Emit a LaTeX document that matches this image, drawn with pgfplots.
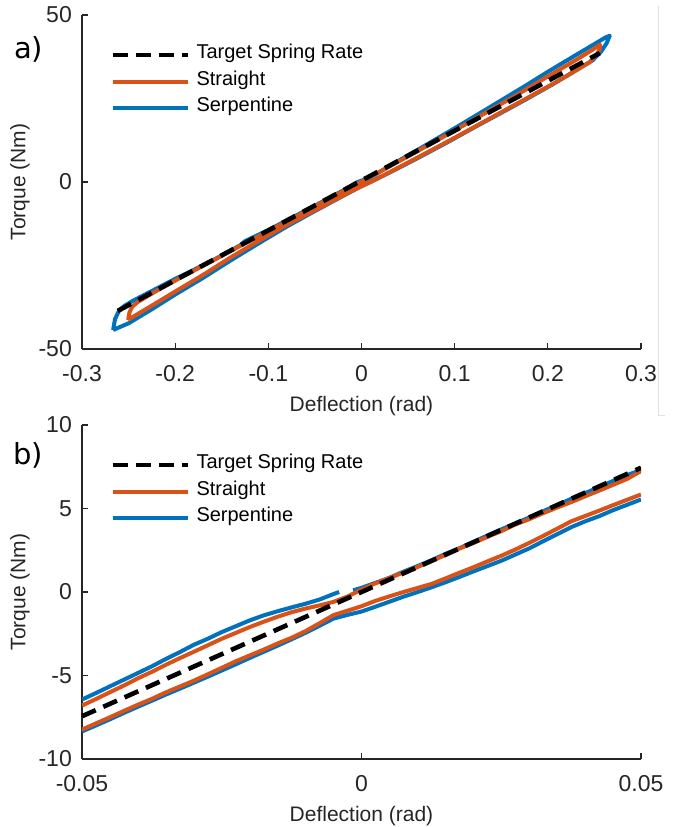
\documentclass[border=0pt]{standalone}
\usepackage{fontspec}
\setmainfont{Liberation Sans}
\newfontfamily\panelfont{DejaVu Sans}
\usepackage{pgfplots}
\pgfplotsset{compat=1.18}
\definecolor{mblue}{rgb}{0,0.447,0.741}
\definecolor{morange}{rgb}{0.85,0.325,0.098}
\definecolor{maxis}{rgb}{0.15,0.15,0.15}

\pgfplotsset{
  springax/.style={
    width=559pt, height=334pt, scale only axis,
    axis x line*=bottom, axis y line*=left,
    axis line style={maxis, line width=1.1pt},
    tick style={maxis, line width=1.1pt},
    tick align=inside, major tick length=6pt,
    scaled ticks=false,
    ticklabel style={font=\fontsize{23}{23}\selectfont, text=maxis},
    xticklabel style={anchor=north, inner sep=0pt, yshift=-16pt},
    yticklabel style={anchor=east, inner sep=0pt, xshift=-10pt},
    xlabel={Deflection (rad)}, ylabel={Torque (Nm)},
    xlabel style={font=\fontsize{21}{21}\selectfont, text=maxis,
      at={(axis description cs:0.5,-0.1877)}, anchor=base, inner sep=0pt},
    ylabel style={font=\fontsize{21}{21}\selectfont, text=maxis,
      at={(axis description cs:-0.111,0.5)}, anchor=center, inner sep=0pt},
    legend style={at={(axis description cs:0.0501,0.9211)}, anchor=north west,
      draw=none, fill=none, inner sep=0pt, row sep=0pt, column sep=6.7pt,
      font=\fontsize{20}{20}\selectfont,
      nodes={inner sep=0pt, text height=16.95pt, text depth=9.75pt}},
    legend cell align=left,
    legend image code/.code={\draw[##1] (0pt,0pt) -- (75pt,0pt);},
  },
  target/.style={black, line width=4.6pt, dash pattern=on 15pt off 8.3pt},
  straight/.style={morange, line width=4pt, line join=round},
  serp/.style={mblue, line width=4pt, line join=round},
}

\begin{document}
\begin{tikzpicture}
\useasboundingbox (-82pt,15pt) rectangle (600pt,-812pt);

% ---- panel a ----
\begin{axis}[springax, at={(0,0)}, anchor=north west,
  xmin=-0.3, xmax=0.3, ymin=-50, ymax=50,
  xtick={-0.3,-0.2,-0.1,0,0.1,0.2,0.3},
  xticklabels={-0.3,-0.2,-0.1,0,0.1,0.2,0.3},
  ytick={-50,0,50}, yticklabels={-50,0,50}]
\addlegendimage{target}\addlegendentry{Target Spring Rate}
\addlegendimage{straight}\addlegendentry{Straight}
\addlegendimage{serp}\addlegendentry{Serpentine}
\addplot[serp, forget plot] coordinates {
 (-0.2666,-44.3) (-0.2645,-41.0) (-0.2600,-38.4) (-0.2540,-37.0) (-0.2450,-35.5)
 (-0.2200,-31.9) (-0.2000,-29.0) (-0.1800,-26.3) (-0.1560,-22.9) (-0.1300,-18.9)
 (-0.1250,-17.7) (-0.1000,-14.4) (-0.0700,-10.0) (-0.0400,-5.6) (-0.0150,-1.8)
 (-0.0050,-0.1) (0.0050,0.9) (0.0150,2.3) (0.0400,6.4) (0.0700,11.2)
 (0.1000,16.1) (0.1300,21.1) (0.1550,25.3) (0.1770,29.0) (0.2000,33.0)
 (0.2270,37.5) (0.2500,41.3) (0.2620,43.3) (0.2665,43.8)
 (0.2630,41.5) (0.2570,39.0) (0.2480,36.4) (0.2300,33.4) (0.2050,29.2)
 (0.1750,24.5) (0.1480,20.4) (0.1200,16.2) (0.0950,12.3) (0.0600,7.1)
 (0.0300,2.8) (0.0100,0.1) (0.0000,-1.2) (-0.0200,-4.2) (-0.0500,-8.7)
 (-0.0800,-13.3) (-0.1100,-18.3) (-0.1400,-23.4) (-0.1700,-28.7) (-0.2000,-33.7)
 (-0.2250,-38.1) (-0.2500,-42.3) (-0.2666,-44.3)};
\addplot[straight, forget plot] coordinates {
 (-0.2505,-41.3) (-0.2490,-39.0) (-0.2460,-37.3) (-0.2400,-35.9) (-0.2200,-32.6)
 (-0.1900,-28.0) (-0.1600,-23.6) (-0.1300,-19.1) (-0.1000,-14.7) (-0.0700,-10.3)
 (-0.0400,-5.8) (-0.0150,-2.0) (0.0000,0.1) (0.0200,3.1) (0.0500,7.7)
 (0.0800,12.3) (0.1100,17.0) (0.1400,21.8) (0.1700,26.6) (0.2000,31.6)
 (0.2300,36.5) (0.2480,39.6) (0.2560,41.1)
 (0.2555,39.6) (0.2520,38.0) (0.2450,35.9) (0.2200,31.7) (0.2050,29.3)
 (0.1750,24.7) (0.1480,20.6) (0.1200,16.3) (0.0950,12.5) (0.0600,7.3)
 (0.0300,2.9) (0.0100,0.0) (0.0000,-1.3) (-0.0200,-4.1) (-0.0500,-8.5)
 (-0.0800,-12.8) (-0.1100,-17.6) (-0.1400,-22.5) (-0.1700,-27.8) (-0.2000,-32.8)
 (-0.2250,-37.0) (-0.2430,-40.0) (-0.2505,-41.3)};
\addplot[target, forget plot] coordinates {(-0.2616,-38.6) (0.2558,38.6)};
\end{axis}

% ---- panel b ----
\begin{axis}[springax, at={(0,-410pt)}, anchor=north west,
  xmin=-0.05, xmax=0.05, ymin=-10, ymax=10,
  xtick={-0.05,0,0.05}, xticklabels={-0.05,0,0.05},
  ytick={-10,-5,0,5,10}, yticklabels={-10,-5,0,5,10}]
\addlegendimage{target}\addlegendentry{Target Spring Rate}
\addlegendimage{straight}\addlegendentry{Straight}
\addlegendimage{serp}\addlegendentry{Serpentine}
% serpentine: upper branch (x<0), upper branch (x>0), lower branch
\addplot[serp, forget plot] coordinates {
 (-0.050,-6.44) (-0.0475,-6.05) (-0.045,-5.65) (-0.0425,-5.25) (-0.040,-4.85)
 (-0.0375,-4.45) (-0.035,-4.01) (-0.0325,-3.60) (-0.030,-3.16) (-0.0275,-2.80)
 (-0.025,-2.40) (-0.0225,-2.05) (-0.020,-1.70) (-0.0175,-1.40) (-0.015,-1.15)
 (-0.0125,-0.92) (-0.010,-0.70) (-0.0075,-0.45) (-0.005,-0.12) (-0.004,0.00)};
\addplot[serp, forget plot] coordinates {
 (-0.0015,0.10) (0.000,0.25) (0.0025,0.55) (0.005,0.85) (0.0075,1.22)
 (0.010,1.55) (0.0125,1.90) (0.015,2.28) (0.0175,2.62) (0.020,3.00)
 (0.0225,3.38) (0.025,3.75) (0.0275,4.10) (0.030,4.46) (0.0325,4.84)
 (0.035,5.20) (0.0375,5.58) (0.040,5.92) (0.0425,6.28) (0.045,6.65)
 (0.0475,7.00) (0.050,7.30)};
\addplot[serp, forget plot] coordinates {
 (0.050,5.54) (0.0475,5.22) (0.045,4.90) (0.0425,4.54) (0.040,4.23)
 (0.0375,3.88) (0.035,3.46) (0.0325,3.04) (0.030,2.61) (0.0275,2.24)
 (0.025,1.87) (0.0225,1.55) (0.020,1.23) (0.0175,0.90) (0.015,0.58)
 (0.0125,0.28) (0.010,-0.01) (0.0075,-0.28) (0.005,-0.58) (0.0025,-0.88)
 (0.000,-1.17) (-0.0025,-1.37) (-0.005,-1.59) (-0.0075,-2.02) (-0.010,-2.44)
 (-0.0125,-2.83) (-0.015,-3.21) (-0.0175,-3.58) (-0.020,-3.95) (-0.0225,-4.33)
 (-0.025,-4.70) (-0.0275,-5.07) (-0.030,-5.43) (-0.0325,-5.79) (-0.035,-6.14)
 (-0.0375,-6.51) (-0.040,-6.87) (-0.0425,-7.24) (-0.045,-7.62) (-0.0475,-7.99)
 (-0.050,-8.35)};
% straight: upper branch, lower branch
\addplot[straight, forget plot] coordinates {
 (-0.050,-6.80) (-0.0475,-6.41) (-0.045,-6.00) (-0.0425,-5.60) (-0.040,-5.17)
 (-0.0375,-4.78) (-0.035,-4.36) (-0.0325,-3.96) (-0.030,-3.58) (-0.0275,-3.19)
 (-0.025,-2.80) (-0.0225,-2.45) (-0.020,-2.10) (-0.0175,-1.78) (-0.015,-1.48)
 (-0.0125,-1.21) (-0.010,-0.99) (-0.0075,-0.80) (-0.005,-0.59) (-0.0025,-0.27)
 (0.000,0.15) (0.0025,0.52) (0.005,0.84) (0.0075,1.17) (0.010,1.49)
 (0.0125,1.86) (0.015,2.21) (0.0175,2.60) (0.020,2.93) (0.0225,3.30)
 (0.025,3.64) (0.0275,4.04) (0.030,4.36) (0.0325,4.72) (0.035,5.06)
 (0.0375,5.38) (0.040,5.73) (0.0425,6.07) (0.045,6.42) (0.0475,6.77)
 (0.050,7.24)};
\addplot[straight, forget plot] coordinates {
 (0.050,5.84) (0.0475,5.52) (0.045,5.20) (0.0425,4.87) (0.040,4.55)
 (0.0375,4.23) (0.035,3.79) (0.0325,3.36) (0.030,2.94) (0.0275,2.54)
 (0.025,2.17) (0.0225,1.83) (0.020,1.48) (0.0175,1.15) (0.015,0.81)
 (0.0125,0.48) (0.010,0.24) (0.0075,0.00) (0.005,-0.26) (0.0025,-0.53)
 (0.000,-0.85) (-0.0025,-1.12) (-0.005,-1.38) (-0.0075,-1.87) (-0.010,-2.34)
 (-0.0125,-2.74) (-0.015,-3.08) (-0.0175,-3.45) (-0.020,-3.80) (-0.0225,-4.15)
 (-0.025,-4.54) (-0.0275,-4.93) (-0.030,-5.31) (-0.0325,-5.66) (-0.035,-6.01)
 (-0.0375,-6.40) (-0.040,-6.75) (-0.0425,-7.12) (-0.045,-7.50) (-0.0475,-7.87)
 (-0.050,-8.24)};
\addplot[target, forget plot] coordinates {(-0.05,-7.44) (0.05,7.44)};
\end{axis}

% panel letters and the faint frame remnant at the right
\node[anchor=base west, inner sep=0pt, font=\panelfont\fontsize{29}{29}\selectfont] at (-68pt,-43pt) {a)};
\node[anchor=base west, inner sep=0pt, font=\panelfont\fontsize{29}{29}\selectfont] at (-68.7pt,-449.5pt) {b)};
\draw[black!12, line width=1pt] (576pt,9pt) -- (576pt,-400pt) -- (583pt,-400pt);
\end{tikzpicture}
\end{document}
